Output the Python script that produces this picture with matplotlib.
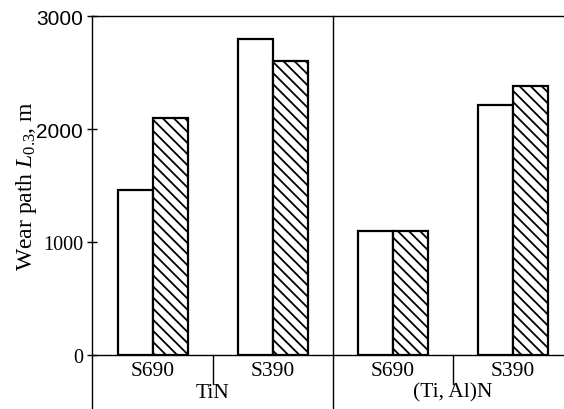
import matplotlib
matplotlib.use("Agg")
import matplotlib.pyplot as plt
import matplotlib.transforms as mtransforms
from matplotlib.font_manager import FontProperties
from matplotlib.ticker import FixedLocator, FixedFormatter
import numpy as np

plt.rcParams['font.family'] = ['Liberation Serif', 'DejaVu Serif']
plt.rcParams['mathtext.fontset'] = 'custom'
plt.rcParams['mathtext.rm'] = 'Liberation Serif'
plt.rcParams['mathtext.it'] = 'Liberation Serif:italic'
plt.rcParams['hatch.linewidth'] = 1.3

# Data
steels = ['S690', 'S390', 'S690', 'S390']
coatings = ['TiN', '(Ti, Al)N']
plain_values = [1460, 2800, 1100, 2210]
hatched_values = [2100, 2600, 1100, 2380]
y_ticks = [0, 1000, 2000, 3000]
y_tick_labels = ['0', '1000', '2000', '3000']

fig = plt.figure(figsize=(5.64, 4.10), dpi=100)
ax = fig.add_axes([0.1631, 0.1317, 0.8369, 0.8268])

x = np.arange(len(steels))
w = 0.29
ax.bar(x - w / 2, plain_values, w, facecolor='white', edgecolor='black', linewidth=1.6)
ax.bar(x + w / 2, hatched_values, w, facecolor='white', edgecolor='black',
       linewidth=1.6, hatch='\\\\\\')

ax.set_xlim(-0.508, 3.425)
ax.set_ylim(0, 3000)

ax.spines['right'].set_visible(False)
for s in ['left', 'top', 'bottom']:
    ax.spines[s].set_linewidth(1.0)

ax.set_xticks([])
ax.yaxis.set_major_locator(FixedLocator(y_ticks))
ax.yaxis.set_major_formatter(FixedFormatter(y_tick_labels))
ax.tick_params(axis='y', direction='inout', length=7, width=1.0, pad=3)

ax.set_ylabel('Wear path $L_{0.3}$, m', fontsize=17, labelpad=-2)

# Group annotations below the axis
trans = mtransforms.blended_transform_factory(ax.transData, ax.transAxes)
x0 = ax.get_xlim()[0]
ax.plot([x0, x0], [0, -0.16], transform=trans, color='black', lw=1.0, clip_on=False)
ax.plot([1.5, 1.5], [1.0, -0.16], transform=trans, color='black', lw=1.0, clip_on=False)
for xm in (0.5, 2.5):
    ax.plot([xm, xm], [0, -0.086], transform=trans, color='black', lw=1.0, clip_on=False)

for xi, name in zip(x, steels):
    ax.text(xi, -0.047, name, transform=trans, ha='center', va='center', fontsize=15.5)
for xm, name in zip((0.5, 2.5), coatings):
    ax.text(xm, -0.11, name, transform=trans, ha='center', va='center', fontsize=15.5)

# Upper tick labels are set in a sans face, lower ones in serif
for lbl in ax.get_yticklabels():
    if lbl.get_text() in ('2000', '3000'):
        lbl.set_fontproperties(FontProperties(family='Liberation Sans', size=15))
    else:
        lbl.set_fontproperties(FontProperties(family='Liberation Serif', size=14.5))

fig.savefig('out.png', dpi=100)
